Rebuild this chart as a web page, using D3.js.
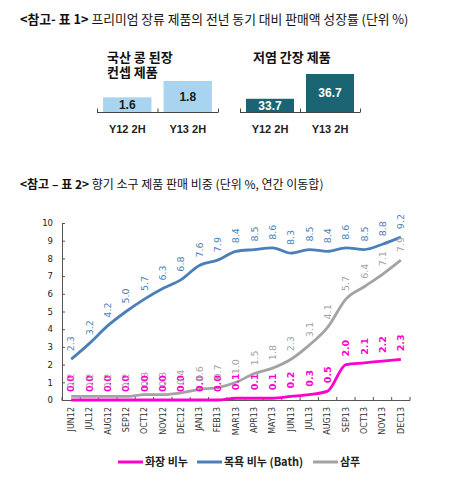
<!DOCTYPE html>
<html><head><meta charset="utf-8">
<script src="https://cdn.jsdelivr.net/npm/d3@7"></script>
<style>
html,body{margin:0;padding:0;background:#fff;}
svg{display:block;}
</style></head>
<body>
<svg id="c" width="450" height="484"></svg>
<script>
// ---- Chart 1 data ----
const periods = ["Y12 2H", "Y13 2H"];
const doenjangGrowth = [1.6, 1.8];
const soySauceGrowth = [33.7, 36.7];

// ---- Chart 2 data ----
const months = ["JUN12","JUL12","AUG12","SEP12","OCT12","NOV12","DEC12","JAN13","FEB13","MAR13","APR13","MAY13","JUN13","JUL13","AUG13","SEP13","OCT13","NOV13","DEC13"];
const facialSoap = [0.0,0.0,0.0,0.0,0.0,0.0,0.0,0.0,0.0,0.1,0.1,0.1,0.2,0.3,0.5,2.0,2.1,2.2,2.3];
const bathSoap   = [2.3,3.2,4.2,5.0,5.7,6.3,6.8,7.6,7.9,8.4,8.5,8.6,8.3,8.5,8.4,8.6,8.5,8.8,9.2];
const shampoo    = [0.2,0.2,0.2,0.2,0.3,0.3,0.4,0.6,0.7,1.0,1.5,1.8,2.3,3.1,4.1,5.7,6.4,7.1,7.9];
const yTickValues = [0,1,2,3,4,5,6,7,8,9,10];
const seriesNames = ["화장 비누", "목욕 비누 (Bath)", "삼푸"];

const KR = "'Noto Sans CJK KR','Noto Sans',sans-serif";
const LAT = "'Liberation Sans',Arial,sans-serif";
const DV = "'DejaVu Sans',Verdana,sans-serif";
const svg = d3.select("#c");

// ---------- Titles ----------
function title(y, size, bold, rest){
  const t = svg.append("text").attr("x", 20).attr("y", y)
    .style("font-family", KR).style("font-size", size + "px").attr("fill", "#111");
  t.append("tspan").style("font-weight", "bold").text(bold);
  t.append("tspan").text(rest);
}
title(24, 12.8, "<참고- 표 1>", " 프리미엄 장류 제품의 전년 동기 대비 판매액 성장률 (단위 %)");
title(189, 12, "<참고 – 표 2>", " 향기 소구 제품 판매 비중 (단위 %, 연간 이동합)");

// ---------- Chart 1: two small bar panels ----------
function barPanel(opt){
  const g = svg.append("g");
  const x = d3.scaleBand().domain(periods).range([opt.x0, opt.x1]).paddingInner(0.2).paddingOuter(0.1);
  const y = d3.scaleLinear().domain(opt.domain).range([112, opt.topPx]);
  const data = periods.map((p, i) => ({p, v: opt.values[i]}));
  g.selectAll("rect").data(data).join("rect")
    .attr("x", d => x(d.p)).attr("width", x.bandwidth())
    .attr("y", d => y(d.v)).attr("height", d => y(opt.domain[0]) - y(d.v))
    .attr("fill", opt.fill);
  g.selectAll("text.v").data(data).join("text").attr("class", "v")
    .attr("x", d => x(d.p) + x.bandwidth()/2)
    .attr("y", d => (y(d.v) + y(opt.domain[0]))/2)
    .attr("dy", "0.36em").attr("text-anchor", "middle")
    .style("font-family", LAT).style("font-size", "12px").style("font-weight", "bold")
    .attr("fill", opt.textFill).text(d => d.v.toFixed(1));
  // baseline with inside ticks at band edges
  const ax = g.append("g").attr("stroke", "#444").attr("stroke-width", 1);
  ax.append("line").attr("x1", opt.x0).attr("x2", opt.x1).attr("y1", 112.5).attr("y2", 112.5);
  const edges = [opt.x0, (opt.x0 + opt.x1)/2, opt.x1];
  ax.selectAll("line.t").data(edges).join("line").attr("class", "t")
    .attr("x1", d => d + 0.5).attr("x2", d => d + 0.5).attr("y1", 112.5).attr("y2", 108.5);
  g.selectAll("text.c").data(periods).join("text").attr("class", "c")
    .attr("x", d => x(d) + x.bandwidth()/2).attr("y", 133).attr("text-anchor", "middle")
    .style("font-family", LAT).style("font-size", "11px").style("font-weight", "bold")
    .attr("fill", "#222").text(d => d);
  opt.title.forEach((line, i) => g.append("text").attr("x", opt.titleX).attr("y", opt.titleY + i*14.5)
    .style("font-family", KR).style("font-size", "13px").style("font-weight", "bold")
    .attr("fill", "#111").text(line));
}
barPanel({x0: 97, x1: 218, domain: [1.42, 1.8], topPx: 81, values: doenjangGrowth,
  fill: "#a9d4f0", textFill: "#1a1a1a", title: ["국산 콩 된장", "컨셉 제품"], titleX: 107, titleY: 62});
barPanel({x0: 240, x1: 360, domain: [32.1, 36.7], topPx: 74, values: soySauceGrowth,
  fill: "#1b6473", textFill: "#ffffff", title: ["저염 간장 제품"], titleX: 253, titleY: 62});

// ---------- Chart 2: lines ----------
const x = d3.scaleBand().domain(months).range([62, 410]);
const y = d3.scaleLinear().domain([0, 10]).range([400, 223]);
const cx = m => x(m) + x.bandwidth()/2;

// y axis (ticks inside)
const yAxis = d3.axisLeft(y).tickValues(yTickValues).tickSize(-3).tickPadding(9).tickFormat(d3.format("d"));
const gy = svg.append("g").attr("transform", "translate(62,0)").call(yAxis);
gy.select(".domain").attr("stroke", "#555");
gy.selectAll(".tick line").attr("stroke", "#555");
gy.selectAll("text").style("font-family", DV).style("font-size", "8.5px").attr("fill", "#222");

// x axis (ticks inside at band edges)
const gx = svg.append("g").attr("transform", "translate(0,400)");
gx.append("line").attr("x1", 62).attr("x2", 410).attr("y1", 0.5).attr("y2", 0.5).attr("stroke", "#555");
const edges = months.map(m => x(m)).concat([410]);
gx.selectAll("line.t").data(edges).join("line").attr("class", "t")
  .attr("x1", d => d).attr("x2", d => d).attr("y1", 0.5).attr("y2", -3).attr("stroke", "#555");
gx.selectAll("text").data(months).join("text")
  .attr("transform", d => `translate(${cx(d)},7) rotate(-90)`)
  .attr("text-anchor", "end").attr("dy", "0.35em")
  .style("font-family", DV).style("font-size", "8px").attr("fill", "#333").text(d => d);

const series = [
  {name: seriesNames[0], values: facialSoap, color: "#ff00cc", bold: true},
  {name: seriesNames[1], values: bathSoap, color: "#4a7fb8", bold: false},
  {name: seriesNames[2], values: shampoo, color: "#a3a3a3", bold: false}
];
const line = d3.line().x((d, i) => cx(months[i])).y(d => y(d)).curve(d3.curveMonotoneX);
series.forEach(s => {
  svg.append("path").datum(s.values).attr("d", line).attr("fill", "none")
    .attr("stroke", s.color).attr("stroke-width", 2.8).attr("stroke-linejoin", "round");
});
series.forEach(s => {
  svg.append("g").selectAll("text").data(s.values).join("text")
    .attr("transform", (d, i) => `translate(${cx(months[i])},${y(d) - 8}) rotate(-90)`)
    .attr("dy", "0.35em").attr("text-anchor", "start")
    .style("font-family", DV).style("font-size", "9.5px")
    .style("font-weight", s.bold ? "bold" : "normal")
    .attr("fill", s.color).text(d => d.toFixed(1));
});

// legend
const legendItems = [
  {x: 118, s: series[0]}, {x: 197, s: series[1]}, {x: 313, s: series[2]}
];
const lg = svg.append("g");
legendItems.forEach(it => {
  lg.append("line").attr("x1", it.x).attr("x2", it.x + 25).attr("y1", 462).attr("y2", 462)
    .attr("stroke", it.s.color).attr("stroke-width", 3);
  lg.append("text").attr("x", it.x + 27).attr("y", 462).attr("dy", "0.36em")
    .style("font-family", KR).style("font-size", "11px").style("font-weight", "bold")
    .attr("fill", "#222").text(it.s.name);
});
</script>
</body></html>
